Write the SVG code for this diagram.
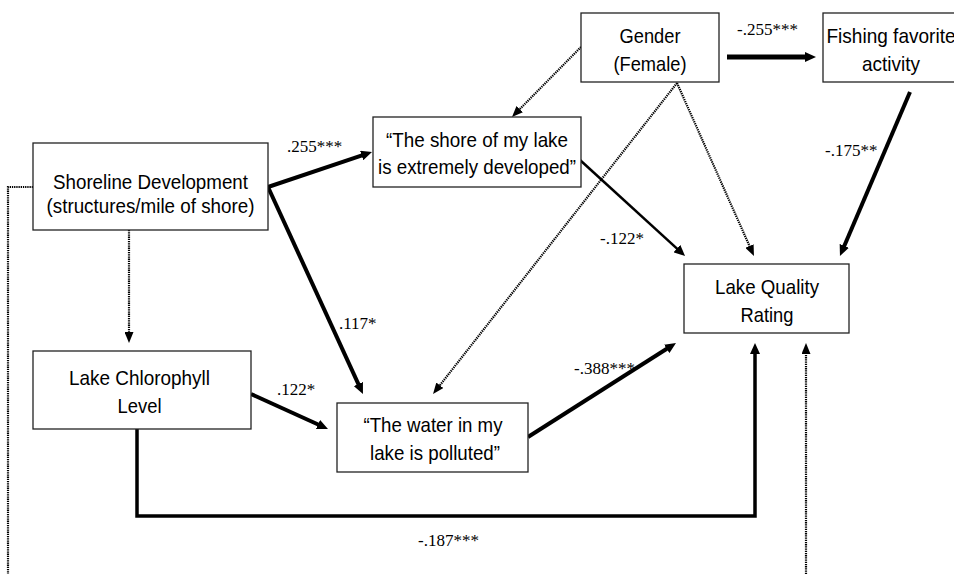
<svg xmlns="http://www.w3.org/2000/svg" width="954" height="574" viewBox="0 0 954 574">
<style>
.box{fill:#fff;stroke:#222;stroke-width:1.3}
.nt{font-family:"Liberation Sans",Arial,sans-serif;font-size:21px;fill:#000;text-anchor:middle}
.lb{font-family:"Liberation Serif","Times New Roman",serif;font-size:17px;fill:#000}
.thick{fill:none;stroke:#000;stroke-width:4}
.mid{fill:none;stroke:#000;stroke-width:2.5}
.dot{fill:none;stroke:#000;stroke-width:2.2;stroke-dasharray:1.3 0.9}
</style>
<defs>
<marker id="ah" markerUnits="userSpaceOnUse" markerWidth="11" markerHeight="10" refX="2" refY="5" orient="auto" viewBox="0 0 11 10">
<path d="M0,0 L11,5 L0,10 z" fill="#000"/>
</marker>
<marker id="ahs" markerUnits="userSpaceOnUse" markerWidth="11" markerHeight="9" refX="2" refY="4.5" orient="auto" viewBox="0 0 11 9">
<path d="M0,0 L11,4.5 L0,9 z" fill="#000"/>
</marker>
</defs>
<rect width="954" height="574" fill="#fff"/>
<g id="connectors">
<path class="thick" d="M268,187 L363.5,154.9" marker-end="url(#ah)"/>
<path class="thick" d="M268,187 L359.2,385.8" marker-end="url(#ah)"/>
<path class="dot" d="M129,230 L129,334" marker-end="url(#ahs)"/>
<path class="dot" d="M33,187 L8,187 L8,574"/>
<path class="dot" d="M581,47 L518.3,110.6" marker-end="url(#ahs)"/>
<path class="dot" d="M677,83 L438.6,386.9" marker-end="url(#ahs)"/>
<path class="dot" d="M677,83 L750.3,247.8" marker-end="url(#ahs)"/>
<path class="thick" style="stroke-width:5" d="M727,57 L807,57" marker-end="url(#ah)"/>
<path class="thick" d="M910,92 L843.5,247.7" marker-end="url(#ah)"/>
<path class="mid" d="M580,160 L678.4,249.9" marker-end="url(#ah)"/>
<path class="thick" d="M251,394 L319.8,425.3" marker-end="url(#ah)"/>
<path class="thick" style="stroke-width:3.5" d="M137,429 L137,516 L755,516 L755,352" marker-end="url(#ah)"/>
<path class="thick" d="M528,437 L668.4,347.8" marker-end="url(#ah)"/>
<path class="dot" d="M806,574 L806,352" marker-end="url(#ahs)"/>
</g>
<g id="labels">
<text class="lb" x="737" y="35">-.255***</text>
<text class="lb" x="287" y="152">.255***</text>
<text class="lb" x="825" y="156">-.175**</text>
<text class="lb" x="600" y="244">-.122*</text>
<text class="lb" x="339" y="329">.117*</text>
<text class="lb" x="277" y="395">.122*</text>
<text class="lb" x="574" y="374">-.388***</text>
<text class="lb" x="418" y="546">-.187***</text>
</g>
<g id="gender">
<rect class="box" x="581" y="13" width="138" height="69"/>
<text class="nt" x="650" y="43" textLength="61" lengthAdjust="spacingAndGlyphs">Gender</text>
<text class="nt" x="650" y="71" textLength="73" lengthAdjust="spacingAndGlyphs">(Female)</text>
</g>
<g id="fishing">
<rect class="box" x="823" y="13" width="140" height="69"/>
<text class="nt" x="891" y="43" textLength="129" lengthAdjust="spacingAndGlyphs">Fishing favorite</text>
<text class="nt" x="891" y="71" textLength="58" lengthAdjust="spacingAndGlyphs">activity</text>
</g>
<g id="shoreline">
<rect class="box" x="33" y="143" width="235" height="87"/>
<text class="nt" x="150.5" y="189" textLength="195" lengthAdjust="spacingAndGlyphs">Shoreline Development</text>
<text class="nt" x="150.5" y="213" textLength="208" lengthAdjust="spacingAndGlyphs">(structures/mile of shore)</text>
</g>
<g id="shore">
<rect class="box" x="373" y="117" width="208" height="70"/>
<text class="nt" x="477" y="147" textLength="182" lengthAdjust="spacingAndGlyphs">“The shore of my lake</text>
<text class="nt" x="477" y="174" textLength="198" lengthAdjust="spacingAndGlyphs">is extremely developed”</text>
</g>
<g id="chlorophyll">
<rect class="box" x="33" y="351" width="218" height="78"/>
<text class="nt" x="139.5" y="385" textLength="141" lengthAdjust="spacingAndGlyphs">Lake Chlorophyll</text>
<text class="nt" x="139.5" y="413" textLength="44" lengthAdjust="spacingAndGlyphs">Level</text>
</g>
<g id="water">
<rect class="box" x="337" y="403" width="191" height="69"/>
<text class="nt" x="433" y="432" textLength="139" lengthAdjust="spacingAndGlyphs">“The water in my</text>
<text class="nt" x="435" y="460" textLength="130" lengthAdjust="spacingAndGlyphs">lake is polluted”</text>
</g>
<g id="lqr">
<rect class="box" x="684" y="264" width="165" height="69"/>
<text class="nt" x="767" y="294" textLength="104" lengthAdjust="spacingAndGlyphs">Lake Quality</text>
<text class="nt" x="767" y="322" textLength="53" lengthAdjust="spacingAndGlyphs">Rating</text>
</g>
</svg>
